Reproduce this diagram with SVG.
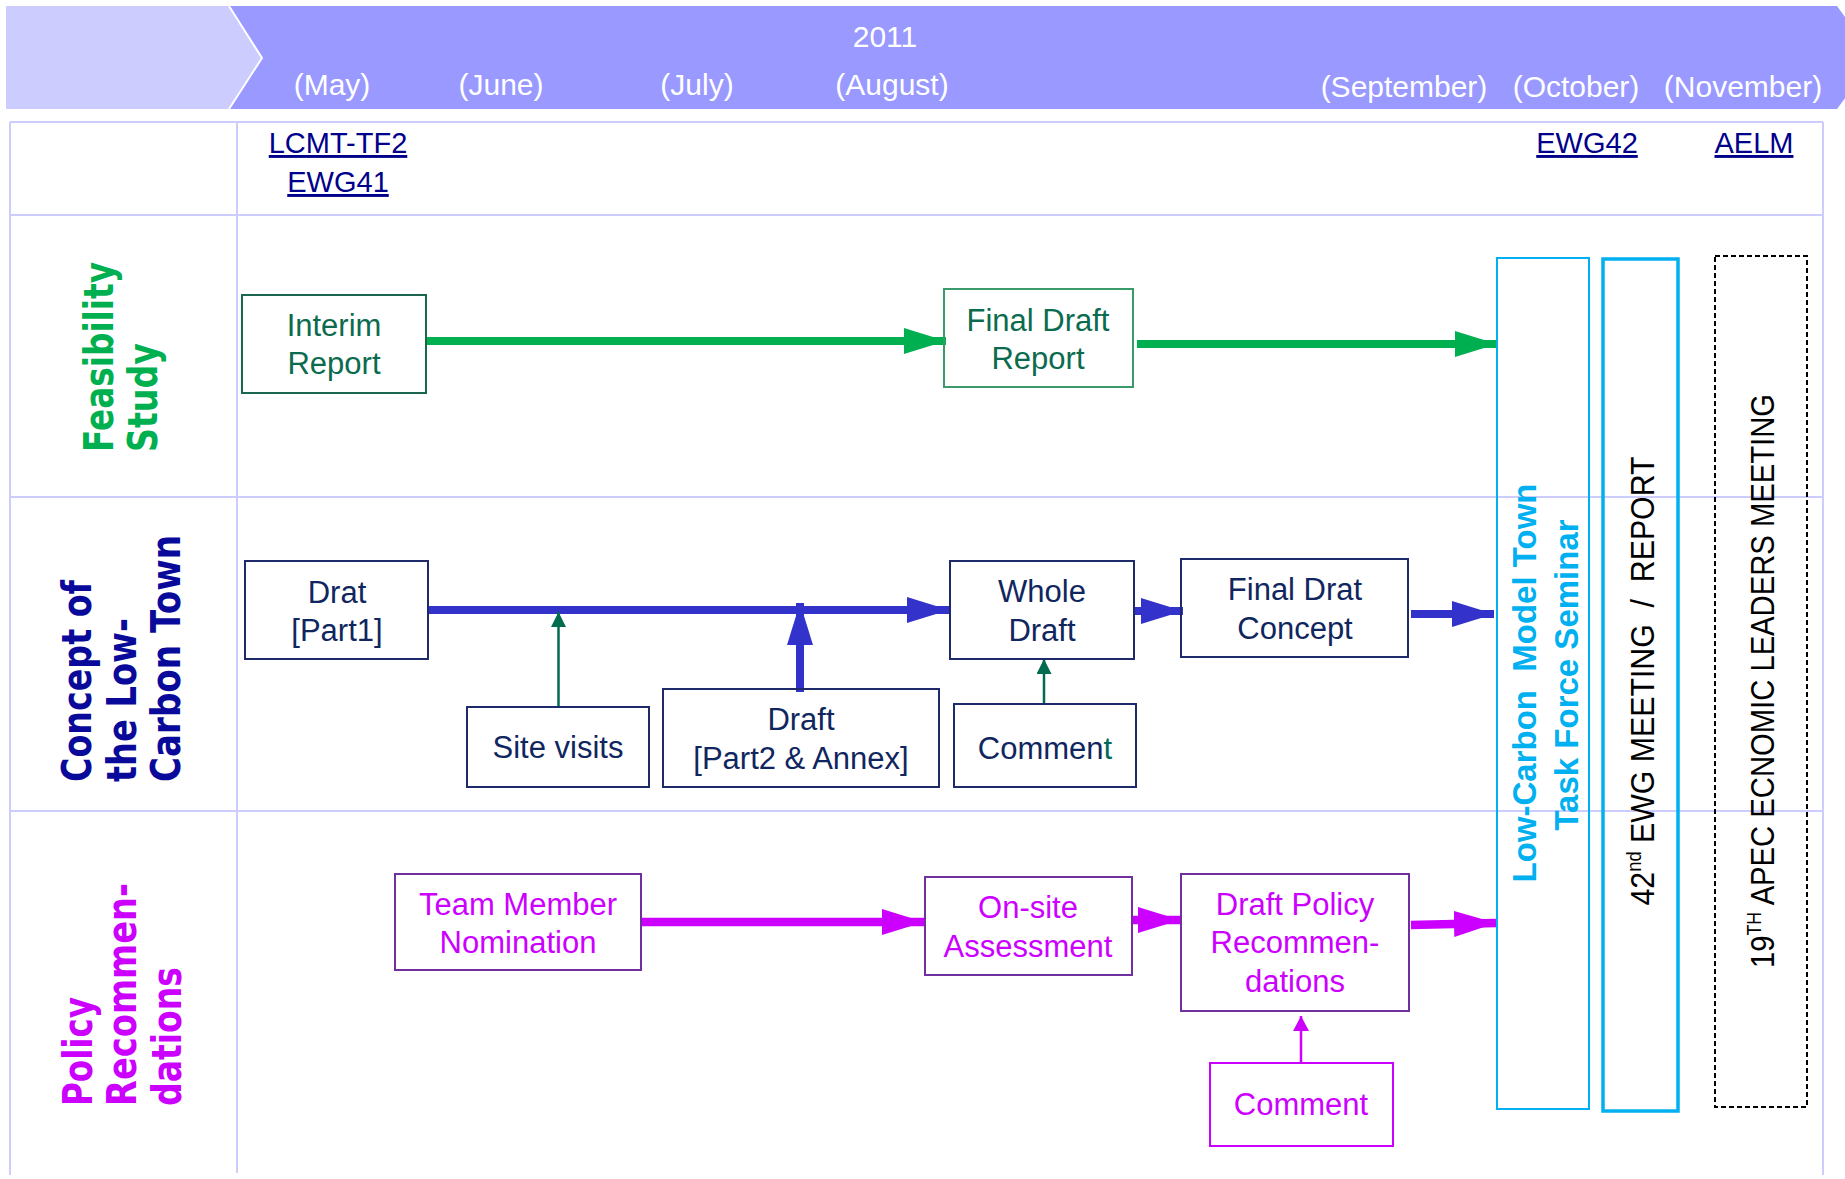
<svg xmlns="http://www.w3.org/2000/svg" width="1845" height="1179" viewBox="0 0 1845 1179">
<style>
.grid{stroke:#ccccff;stroke-width:2;fill:none}
.hdr{font-family:"Liberation Sans",Arial,sans-serif;font-size:30px;fill:#ffffff;text-anchor:middle}
.link{font-family:"Liberation Sans",Arial,sans-serif;font-size:29px;fill:#00008b;text-anchor:middle;text-decoration:underline}
.lane{font-family:"DejaVu Sans","Liberation Sans",sans-serif;font-size:40px;font-weight:bold}
.t{font-family:"Liberation Sans",Arial,sans-serif;font-size:31px;text-anchor:middle}
.g{fill:#0b6b4e}
.n{fill:#10265f}
.m{fill:#cc00ff}
.boxg1{fill:none;stroke:#1a6650;stroke-width:2}
.boxg2{fill:none;stroke:#3a9a6a;stroke-width:2}
.boxn{fill:none;stroke:#1f2a6b;stroke-width:2}
.boxp{fill:none;stroke:#7030a0;stroke-width:2}
.boxm{fill:none;stroke:#cc00ff;stroke-width:2}
.vt{font-family:"Liberation Sans",Arial,sans-serif;font-size:33px;text-anchor:middle}
</style>
<defs>
<marker id="hg" markerUnits="userSpaceOnUse" markerWidth="42" markerHeight="26" refX="42" refY="13" orient="auto"><path d="M0,0 L42,13 L0,26 z" fill="#00b050"/></marker>
<marker id="hb" markerUnits="userSpaceOnUse" markerWidth="42" markerHeight="26" refX="42" refY="13" orient="auto"><path d="M0,0 L42,13 L0,26 z" fill="#3333cc"/></marker>
<marker id="hm" markerUnits="userSpaceOnUse" markerWidth="42" markerHeight="26" refX="42" refY="13" orient="auto"><path d="M0,0 L42,13 L0,26 z" fill="#cc00ff"/></marker>
<marker id="tg" markerUnits="userSpaceOnUse" markerWidth="15" markerHeight="15" refX="15" refY="7.5" orient="auto"><path d="M0,0 L15,7.5 L0,15 z" fill="#006b4f"/></marker>
<marker id="tm" markerUnits="userSpaceOnUse" markerWidth="15" markerHeight="16" refX="15" refY="8" orient="auto"><path d="M0,0 L15,8 L0,16 z" fill="#cc00ff"/></marker>
</defs>
<rect width="1845" height="1179" fill="#ffffff"/>

<g id="header">
<polygon points="6,6 229,6 262,58 229,109 6,109" fill="#ccccff"/>
<polygon points="229,6 1837,6 1875,58 1837,109 229,109 262,58" fill="#9999ff"/>
<polyline points="229,6 262,58 229,109" fill="none" stroke="#ffffff" stroke-width="2"/>
<text class="hdr" x="885" y="47">2011</text>
<text class="hdr" x="332" y="95">(May)</text>
<text class="hdr" x="501" y="95">(June)</text>
<text class="hdr" x="697" y="95">(July)</text>
<text class="hdr" x="892" y="95">(August)</text>
<text class="hdr" x="1404" y="97">(September)</text>
<text class="hdr" x="1576" y="97">(October)</text>
<text class="hdr" x="1743" y="97">(November)</text>
</g>

<g id="grid">
<line class="grid" x1="10" y1="122" x2="1823" y2="122"/>
<line class="grid" x1="10" y1="122" x2="10" y2="1175"/>
<line class="grid" x1="1823" y1="122" x2="1823" y2="1175"/>
<line class="grid" x1="237" y1="122" x2="237" y2="1173"/>
<line class="grid" x1="10" y1="215" x2="1823" y2="215"/>
<line class="grid" x1="10" y1="497" x2="1823" y2="497"/>
<line class="grid" x1="10" y1="811" x2="1823" y2="811"/>
</g>

<g id="milestones">
<text class="link" x="338" y="153">LCMT-TF2</text>
<text class="link" x="338" y="192">EWG41</text>
<text class="link" x="1587" y="153">EWG42</text>
<text class="link" x="1754" y="153">AELM</text>
</g>

<g id="lane-feasibility">
<text class="lane" fill="#00b050" textLength="190" lengthAdjust="spacingAndGlyphs" transform="translate(113,452) rotate(-90)">Feasibility</text>
<text class="lane" fill="#00b050" textLength="109" lengthAdjust="spacingAndGlyphs" transform="translate(157,452) rotate(-90)">Study</text>
</g>
<g id="lane-concept">
<text class="lane" fill="#0a0a9a" textLength="202" lengthAdjust="spacingAndGlyphs" transform="translate(91,782) rotate(-90)">Concept of</text>
<text class="lane" fill="#0a0a9a" textLength="164" lengthAdjust="spacingAndGlyphs" transform="translate(136,782) rotate(-90)">the Low-</text>
<text class="lane" fill="#0a0a9a" textLength="247" lengthAdjust="spacingAndGlyphs" transform="translate(180,782) rotate(-90)">Carbon Town</text>
</g>
<g id="lane-policy">
<text class="lane" fill="#cc00ff" textLength="109" lengthAdjust="spacingAndGlyphs" transform="translate(92,1106) rotate(-90)">Policy</text>
<text class="lane" fill="#cc00ff" textLength="223" lengthAdjust="spacingAndGlyphs" transform="translate(136,1106) rotate(-90)">Recommen-</text>
<text class="lane" fill="#cc00ff" textLength="139" lengthAdjust="spacingAndGlyphs" transform="translate(181,1106) rotate(-90)">dations</text>
</g>

<g id="connectors">
<line x1="426" y1="341" x2="946" y2="341" stroke="#00b050" stroke-width="8" marker-end="url(#hg)"/>
<line x1="1137" y1="344" x2="1497" y2="344" stroke="#00b050" stroke-width="8" marker-end="url(#hg)"/>
<line x1="428" y1="610" x2="949" y2="610" stroke="#3333cc" stroke-width="8" marker-end="url(#hb)"/>
<line x1="800" y1="692" x2="800" y2="603" stroke="#3333cc" stroke-width="8" marker-end="url(#hb)"/>
<line x1="558.5" y1="707" x2="558.5" y2="612" stroke="#006b4f" stroke-width="2.5" marker-end="url(#tg)"/>
<line x1="1134" y1="611" x2="1183" y2="611" stroke="#3333cc" stroke-width="8" marker-end="url(#hb)"/>
<line x1="1044" y1="704" x2="1044" y2="659" stroke="#006b4f" stroke-width="2.5" marker-end="url(#tg)"/>
<line x1="1411" y1="614" x2="1494" y2="614" stroke="#3333cc" stroke-width="8" marker-end="url(#hb)"/>
<line x1="641" y1="922" x2="924" y2="922" stroke="#cc00ff" stroke-width="8.5" marker-end="url(#hm)"/>
<line x1="1132" y1="920" x2="1180" y2="920" stroke="#cc00ff" stroke-width="8.5" marker-end="url(#hm)"/>
<line x1="1411" y1="925" x2="1496" y2="923" stroke="#cc00ff" stroke-width="8.5" marker-end="url(#hm)"/>
<line x1="1301" y1="1063" x2="1301" y2="1016" stroke="#cc00ff" stroke-width="2.5" marker-end="url(#tm)"/>
</g>

<g id="interim-report">
<rect class="boxg1" x="242" y="295" width="184" height="98"/>
<text class="t g" x="334" y="336">Interim</text>
<text class="t g" x="334" y="374">Report</text>
</g>
<g id="final-draft-report">
<rect class="boxg2" x="944" y="289" width="189" height="98"/>
<text class="t g" x="1038" y="331">Final Draft</text>
<text class="t g" x="1038" y="369">Report</text>
</g>

<g id="drat-part1">
<rect class="boxn" x="245" y="561" width="183" height="98"/>
<text class="t n" x="337" y="603">Drat</text>
<text class="t n" x="337" y="641">[Part1]</text>
</g>
<g id="site-visits">
<rect class="boxn" x="467" y="707" width="182" height="80"/>
<text class="t n" x="558" y="758">Site visits</text>
</g>
<g id="draft-part2">
<rect class="boxn" x="663" y="689" width="276" height="98"/>
<text class="t n" x="801" y="730">Draft</text>
<text class="t n" x="801" y="769">[Part2 &amp; Annex]</text>
</g>
<g id="whole-draft">
<rect class="boxn" x="950" y="561" width="184" height="98"/>
<text class="t n" x="1042" y="602">Whole</text>
<text class="t n" x="1042" y="641">Draft</text>
</g>
<g id="final-drat-concept">
<rect class="boxn" x="1181" y="559" width="227" height="98"/>
<text class="t n" x="1295" y="600">Final Drat</text>
<text class="t n" x="1295" y="639">Concept</text>
</g>
<g id="comment-concept">
<rect class="boxn" x="954" y="704" width="182" height="83"/>
<text class="t n" x="1045" y="759">Commen<tspan fill="#00695c">t</tspan></text>
</g>

<g id="team-member">
<rect class="boxp" x="395" y="874" width="246" height="96"/>
<text class="t m" x="518" y="915">Team Member</text>
<text class="t m" x="518" y="953">Nomination</text>
</g>
<g id="on-site">
<rect class="boxp" x="925" y="877" width="207" height="98"/>
<text class="t m" x="1028" y="918">On-site</text>
<text class="t m" x="1028" y="957">Assessment</text>
</g>
<g id="draft-policy">
<rect class="boxp" x="1181" y="874" width="228" height="137"/>
<text class="t m" x="1295" y="915">Draft Policy</text>
<text class="t m" x="1295" y="953">Recommen-</text>
<text class="t m" x="1295" y="992">dations</text>
</g>
<g id="comment-policy">
<rect class="boxm" x="1210" y="1063" width="183" height="83"/>
<text class="t m" x="1301" y="1115">Comment</text>
</g>

<g id="seminar">
<rect x="1497" y="258" width="92" height="851" fill="none" stroke="#00b0f0" stroke-width="2"/>
<text class="vt" font-weight="bold" fill="#00b0f0" xml:space="preserve" transform="translate(1536,683) rotate(-90)">Low-Carbon  Model Town</text>
<text class="vt" font-weight="bold" fill="#00b0f0" transform="translate(1578,675) rotate(-90)">Task Force Seminar</text>
</g>
<g id="ewg-meeting">
<rect x="1603" y="259" width="75" height="852" fill="none" stroke="#00b0f0" stroke-width="3.5"/>
<text class="vt" fill="#000000" xml:space="preserve" textLength="449" lengthAdjust="spacingAndGlyphs" transform="translate(1654,681) rotate(-90)">42<tspan font-size="20" dy="-13">nd</tspan><tspan dy="13"> EWG MEETING  /  REPORT</tspan></text>
</g>
<g id="aelm-meeting">
<rect x="1715" y="256" width="92" height="851" fill="none" stroke="#000000" stroke-width="2" stroke-dasharray="5,3"/>
<text class="vt" fill="#000000" textLength="574" lengthAdjust="spacingAndGlyphs" transform="translate(1774,681) rotate(-90)">19<tspan font-size="20" dy="-13">TH</tspan><tspan dy="13"> APEC ECNOMIC LEADERS MEETING</tspan></text>
</g>
</svg>
